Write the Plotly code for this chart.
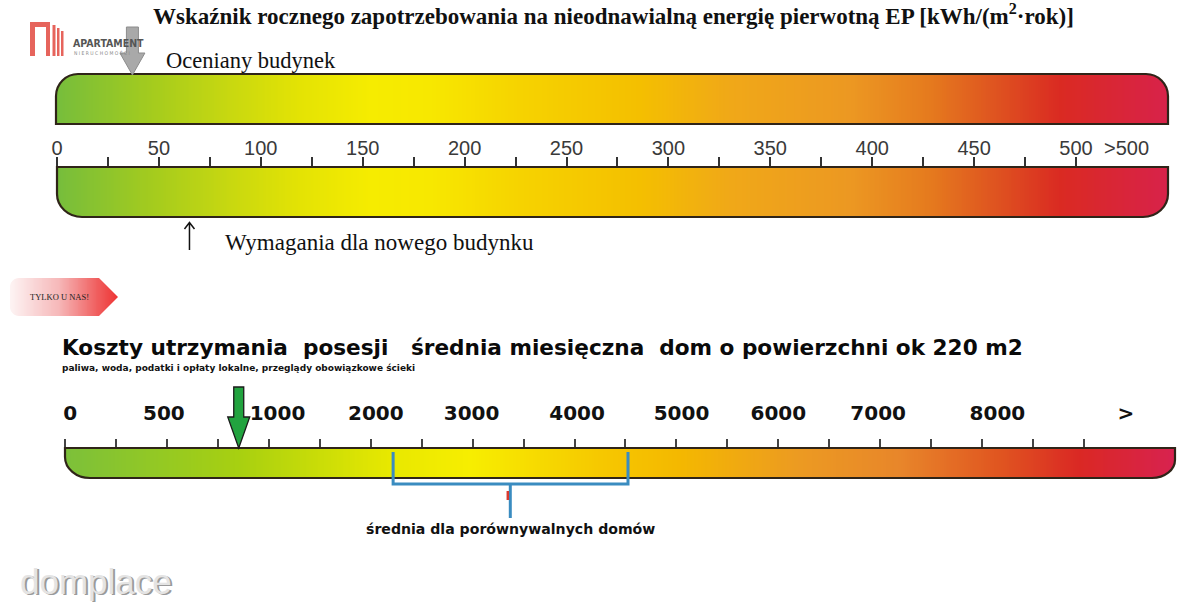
import numpy as np
import plotly.graph_objects as go

W, H = 1200, 602

# ---------------- data ----------------
ep_tick_values = [0, 50, 100, 150, 200, 250, 300, 350, 400, 450, 500]
ep_tick_labels = ["0", "50", "100", "150", "200", "250", "300", "350", "400", "450", "500"]
ep_minor_values = [25, 75, 125, 175, 225, 275, 325, 375, 425, 475]
ep_over_label = ">500"
ep_over_value = 525
ep_rated_building = 37        # "Oceniany budynek"
ep_new_building_req = 65      # "Wymagania dla nowego budynku"

cost_tick_index = [0, 1, 2, 3, 4, 5, 6, 7, 8, 9, 10, 11, 12, 13, 14, 15, 16, 17, 18, 19, 20]
cost_labels = ["0", "500", "1000", "2000", "3000", "4000", "5000", "6000", "7000", "8000", ">"]
cost_label_index = [0.1, 1.94, 4.17, 6.1, 7.98, 10.05, 12.1, 14.0, 15.96, 18.3, 20.82]
cost_marker_index = 3.41
cost_avg_span = [6.44, 11.05]
cost_avg_mid = 8.74

title_top = "Wskaźnik rocznego zapotrzebowania na nieodnawialną energię pierwotną EP [kWh/(m<sup>2</sup>·rok)]"
label_rated = "Oceniany budynek"
label_req = "Wymagania dla nowego budynku"
badge_text = "TYLKO U NAS!"
title_cost = ("Koszty utrzymania\u00a0\u00a0posesji\u00a0\u00a0\u00a0średnia miesięczna\u00a0\u00a0"
              "dom o powierzchni ok 220 m2")
subtitle_cost = "paliwa, woda, podatki i opłaty lokalne, przeglądy obowiązkowe ścieki"
label_avg = "średnia dla porównywalnych domów"
logo_name = "APARTAMENT"
logo_sub = "N I E R U C H O M O Ś C I"
watermark = "domplace"

# ---------------- scale geometry (pixels) ----------------
EP_ORIGIN_PX, EP_PX_PER_UNIT = 57.0, 2.038
COST_ORIGIN_PX, COST_PX_PER_TICK = 65.0, 50.95


def px_to_ep(px):
    return (px - EP_ORIGIN_PX) / EP_PX_PER_UNIT


def px_to_cost(px):
    return (px - COST_ORIGIN_PX) / COST_PX_PER_TICK


TOP_BAR = (56, 74, 1168, 124)
MID_BAR = (57, 167, 1168, 217)
COST_BAR = (65, 448, 1175, 478)
BADGE = (10, 278, 118, 316)

ep_grad = [[0.0, "#76bd3c"], [0.084, "#a3cb1e"], [0.156, "#c8d810"], [0.22, "#e4e304"],
           [0.283, "#f6ec00"], [0.336, "#f7e800"], [0.417, "#f6d300"], [0.525, "#f4bf00"],
           [0.606, "#f0a818"], [0.714, "#ec9822"], [0.786, "#e57a1e"], [0.85, "#de5020"],
           [0.903, "#da2a22"], [1.0, "#d8224a"]]
cost_grad = [[0.0, "#7cc03a"], [0.158, "#a8d010"], [0.293, "#e8e800"], [0.365, "#f7ee00"],
             [0.482, "#f6c800"], [0.554, "#f4b800"], [0.662, "#ec9a22"], [0.752, "#e8862a"],
             [0.842, "#e05520"], [0.914, "#da2824"], [1.0, "#d82250"]]
badge_grad = [[0.0, "#fdf4f4"], [0.45, "#f6b8b9"], [0.8, "#f06060"], [1.0, "#ee3434"]]

OUTLINE = "#2f2418"
K = 0.5523

fig = go.Figure()


def gradient_heatmap(xref, x_edges, y_edges, scale):
    n = len(x_edges) - 1
    z = [[(i + 0.5) / n for i in range(n)]]
    tr = go.Heatmap(x=x_edges, y=y_edges, z=z, colorscale=scale, zmin=0, zmax=1,
                    showscale=False, hoverinfo="skip")
    tr.update(xaxis=xref, yaxis="y")
    fig.add_trace(tr)


# top (EP) bars on the EP scale
for bar in (TOP_BAR, MID_BAR):
    xe = np.linspace(px_to_ep(bar[0]), px_to_ep(bar[2]), 601)
    gradient_heatmap("x2", xe, [bar[1], bar[3]], ep_grad)

# cost bar on the cost scale
xe = np.linspace(px_to_cost(COST_BAR[0]), px_to_cost(COST_BAR[2]), 601)
gradient_heatmap("x3", xe, [COST_BAR[1], COST_BAR[3]], cost_grad)

# badge
xe = np.linspace(BADGE[0], BADGE[2], 121)
gradient_heatmap("x", xe, [BADGE[1], BADGE[3]], badge_grad)


def rrect_path(x0, y0, x1, y1, rx, ry, corners):
    tl, tr, br, bl = ("tl" in corners, "tr" in corners, "br" in corners, "bl" in corners)
    p = f"M {x0 + (rx if tl else 0)},{y0} L {x1 - (rx if tr else 0)},{y0} "
    if tr:
        p += f"C {x1 - rx + K * rx},{y0} {x1},{y0 + ry - K * ry} {x1},{y0 + ry} "
    p += f"L {x1},{y1 - (ry if br else 0)} "
    if br:
        p += f"C {x1},{y1 - ry + K * ry} {x1 - rx + K * rx},{y1} {x1 - rx},{y1} "
    p += f"L {x0 + (rx if bl else 0)},{y1} "
    if bl:
        p += f"C {x0 + rx - K * rx},{y1} {x0},{y1 - ry + K * ry} {x0},{y1 - ry} "
    p += f"L {x0},{y0 + (ry if tl else 0)} "
    if tl:
        p += f"C {x0},{y0 + ry - K * ry} {x0 + rx - K * rx},{y0} {x0 + rx},{y0} "
    return p + "Z"


def corner_masks(x0, y0, x1, y1, rx, ry, corners):
    out = []
    e = 2.5
    if "tl" in corners:
        out.append(f"M {x0 - e},{y0 - e} L {x0 + rx},{y0 - e} L {x0 + rx},{y0} "
                   f"C {x0 + rx - K * rx},{y0} {x0},{y0 + ry - K * ry} {x0},{y0 + ry} L {x0 - e},{y0 + ry} Z")
    if "tr" in corners:
        out.append(f"M {x1 + e},{y0 - e} L {x1 - rx},{y0 - e} L {x1 - rx},{y0} "
                   f"C {x1 - rx + K * rx},{y0} {x1},{y0 + ry - K * ry} {x1},{y0 + ry} L {x1 + e},{y0 + ry} Z")
    if "br" in corners:
        out.append(f"M {x1 + e},{y1 + e} L {x1 - rx},{y1 + e} L {x1 - rx},{y1} "
                   f"C {x1 - rx + K * rx},{y1} {x1},{y1 - ry + K * ry} {x1},{y1 - ry} L {x1 + e},{y1 - ry} Z")
    if "bl" in corners:
        out.append(f"M {x0 - e},{y1 + e} L {x0 + rx},{y1 + e} L {x0 + rx},{y1} "
                   f"C {x0 + rx - K * rx},{y1} {x0},{y1 - ry + K * ry} {x0},{y1 - ry} L {x0 - e},{y1 - ry} Z")
    return out


shapes = []
bars = [(TOP_BAR, 22, 22, ("tl", "tr")), (MID_BAR, 25, 23, ("bl", "br")),
        (COST_BAR, 25, 21, ("bl",))]
for (x0, y0, x1, y1), rx, ry, cs in bars:
    for m in corner_masks(x0, y0, x1, y1, rx, ry, cs):
        shapes.append(dict(type="path", path=m, xref="x", yref="y", layer="above",
                           fillcolor="white", line=dict(width=0)))
# cost bar bottom-right corner has a smaller radius
for m in corner_masks(*COST_BAR, 23, 18, ("br",)):
    shapes.append(dict(type="path", path=m, xref="x", yref="y", layer="above",
                       fillcolor="white", line=dict(width=0)))

# badge masks (pointed right end, rounded left)
bx0, by0, bx1, by1 = BADGE
bym = (by0 + by1) / 2
for m in corner_masks(bx0, by0, bx1, by1, 9, 9, ("tl", "bl")):
    shapes.append(dict(type="path", path=m, xref="x", yref="y", layer="above",
                       fillcolor="white", line=dict(width=0)))
shapes.append(dict(type="path", path=f"M 97,{by0 - 2} L {bx1 + 3},{by0 - 2} L {bx1 + 3},{bym} L {bx1},{bym} Z",
                   xref="x", yref="y", layer="above", fillcolor="white", line=dict(width=0)))
shapes.append(dict(type="path", path=f"M 97,{by1 + 2} L {bx1 + 3},{by1 + 2} L {bx1 + 3},{bym} L {bx1},{bym} Z",
                   xref="x", yref="y", layer="above", fillcolor="white", line=dict(width=0)))

# outlines
for (x0, y0, x1, y1), rx, ry, cs in bars[:2]:
    shapes.append(dict(type="path", path=rrect_path(x0, y0, x1, y1, rx, ry, cs), xref="x", yref="y",
                       layer="above", line=dict(color=OUTLINE, width=2.2)))
cx0, cy0, cx1, cy1 = COST_BAR
cost_outline = (f"M {cx0},{cy0} L {cx1},{cy0} L {cx1},{cy1 - 18} "
                f"C {cx1},{cy1 - 18 + K * 18} {cx1 - 23 + K * 23},{cy1} {cx1 - 23},{cy1} "
                f"L {cx0 + 25},{cy1} C {cx0 + 25 - K * 25},{cy1} {cx0},{cy1 - 21 + K * 21} {cx0},{cy1 - 21} Z")
shapes.append(dict(type="path", path=cost_outline, xref="x", yref="y", layer="above",
                   line=dict(color=OUTLINE, width=2.2)))

# gray arrow: rated building
shapes.append(dict(type="path", xref="x2", yref="y", xsizemode="pixel", xanchor=ep_rated_building,
                   path="M -6,27 L 6,27 L 6,53 L 12.5,53 L 0,75 L -12.5,53 L -6,53 Z",
                   fillcolor="#a9a9a9", line=dict(color="#8c8c8c", width=1), layer="above"))
# thin arrow: requirement for new building
shapes.append(dict(type="path", xref="x2", yref="y", xsizemode="pixel", xanchor=ep_new_building_req,
                   path="M 0,250 L 0,222.5 M -5,229 L 0,222.5 L 5,229",
                   line=dict(color="#111111", width=1.5), layer="above"))
# green arrow: this property's cost
shapes.append(dict(type="path", xref="x3", yref="y", xsizemode="pixel", xanchor=cost_marker_index,
                   path="M -5,387 L 5,387 L 5,417 L 11,417 L 0,448 L -11,417 L -5,417 Z",
                   fillcolor="#22a33f", line=dict(color="#1b1b1b", width=1.3), layer="above"))
# bracket: average for comparable houses
shapes.append(dict(type="path", xref="x3", yref="y",
                   path=(f"M {cost_avg_span[0]},452 L {cost_avg_span[0]},484 L {cost_avg_span[1]},484 "
                         f"L {cost_avg_span[1]},452"),
                   line=dict(color="#3a8cc0", width=3), layer="above"))
shapes.append(dict(type="path", xref="x3", yref="y",
                   path=f"M {cost_avg_mid},484 L {cost_avg_mid},518",
                   line=dict(color="#3a8cc0", width=3), layer="above"))
shapes.append(dict(type="path", xref="x3", yref="y", xsizemode="pixel", xanchor=cost_avg_mid,
                   path="M -2.5,491 L -2.5,500", line=dict(color="#d83a30", width=2.5), layer="above"))

# logo
LOGO = "#e6645c"
shapes.append(dict(type="path", xref="x", yref="y", fillcolor=LOGO, line=dict(width=0), layer="above",
                   path="M 30,56 L 30,22 L 50,22 L 50,56 L 46,56 L 46,27 L 35,27 L 35,56 Z"))
for (a, b, top) in [(52.5, 55.5, 25), (57, 59.5, 28), (61, 63.5, 31)]:
    shapes.append(dict(type="rect", xref="x", yref="y", x0=a, x1=b, y0=top, y1=56,
                       fillcolor=LOGO, line=dict(width=0), layer="above"))

annotations = [
    dict(text=f"<b>{title_top}</b>", x=613, y=14, font=dict(family="Liberation Serif", size=23, color="#111")),
    dict(text=label_rated, x=164, y=60, xanchor="left",
         font=dict(family="Liberation Serif", size=22.5, color="#111")),
    dict(text=label_req, x=223, y=242, xanchor="left",
         font=dict(family="Liberation Serif", size=23, color="#111")),
    dict(text=ep_over_label, x=ep_over_value, xref="x2", y=148,
         font=dict(family="Liberation Sans", size=20, color="#3a3a3a")),
    dict(text=badge_text, x=59, y=297, font=dict(family="Liberation Serif", size=8.5, color="#222")),
    dict(text=f"<b>{title_cost}</b>", x=60, y=347, xanchor="left",
         font=dict(family="DejaVu Sans", size=21.6, color="#0a0a0a")),
    dict(text=f"<b>{subtitle_cost}</b>", x=60, y=368, xanchor="left",
         font=dict(family="DejaVu Sans", size=9, color="#111")),
    dict(text=f"<b>{label_avg}</b>", x=cost_avg_mid, xref="x3", y=529,
         font=dict(family="DejaVu Sans", size=14.1, color="#111")),
    dict(text=f"<b>{logo_name}</b>", x=71, y=43, xanchor="left",
         font=dict(family="DejaVu Sans Condensed", size=10.5, color="#555")),
    dict(text=logo_sub, x=72, y=53, xanchor="left",
         font=dict(family="DejaVu Sans Condensed", size=5, color="#8a8a8a")),
    dict(text=watermark, x=19.5, y=582.5, xanchor="left",
         font=dict(family="Liberation Sans", size=35, color="#9a9a9a")),
    dict(text=watermark, x=18, y=581, xanchor="left",
         font=dict(family="Liberation Sans", size=35, color="#e4e4e4")),
]
for a in annotations:
    a.setdefault("xref", "x")
    a.setdefault("yref", "y")
    a["showarrow"] = False

fig.update_layout(
    width=W, height=H, margin=dict(l=0, r=0, t=0, b=0),
    paper_bgcolor="white", plot_bgcolor="white", showlegend=False,
    shapes=shapes, annotations=annotations,
    xaxis=dict(range=[0, W], visible=False, fixedrange=True, domain=[0, 1]),
    yaxis=dict(range=[H, 0], visible=False, fixedrange=True, domain=[0, 1]),
    xaxis2=dict(overlaying="x", anchor="free", position=1 - MID_BAR[1] / H, side="top",
                range=[px_to_ep(0), px_to_ep(W)], showgrid=False, zeroline=False, showline=False,
                tickmode="array", tickvals=ep_tick_values, ticktext=ep_tick_labels,
                ticks="outside", ticklen=10, tickwidth=1.5, tickcolor="#333",
                ticklabelstandoff=-6,
                tickfont=dict(family="Liberation Sans", size=20, color="#3a3a3a"),
                minor=dict(tickmode="array", tickvals=ep_minor_values, ticks="outside",
                           ticklen=10, tickwidth=1.5, tickcolor="#333", showgrid=False),
                fixedrange=True, automargin=False),
    xaxis3=dict(overlaying="x", anchor="free", position=1 - COST_BAR[1] / H, side="top",
                range=[px_to_cost(0), px_to_cost(W)], showgrid=False, zeroline=False, showline=False,
                tickmode="array", tickvals=cost_label_index, ticktext=cost_labels,
                ticks="outside", ticklen=20, tickcolor="rgba(0,0,0,0)",
                tickfont=dict(family="DejaVu Sans", size=20, color="#111", weight="bold"),
                minor=dict(tickmode="array", tickvals=cost_tick_index, ticks="outside",
                           ticklen=9, tickwidth=1.5, tickcolor="#444", showgrid=False),
                fixedrange=True, automargin=False),
)

fig.write_html("out.html")
